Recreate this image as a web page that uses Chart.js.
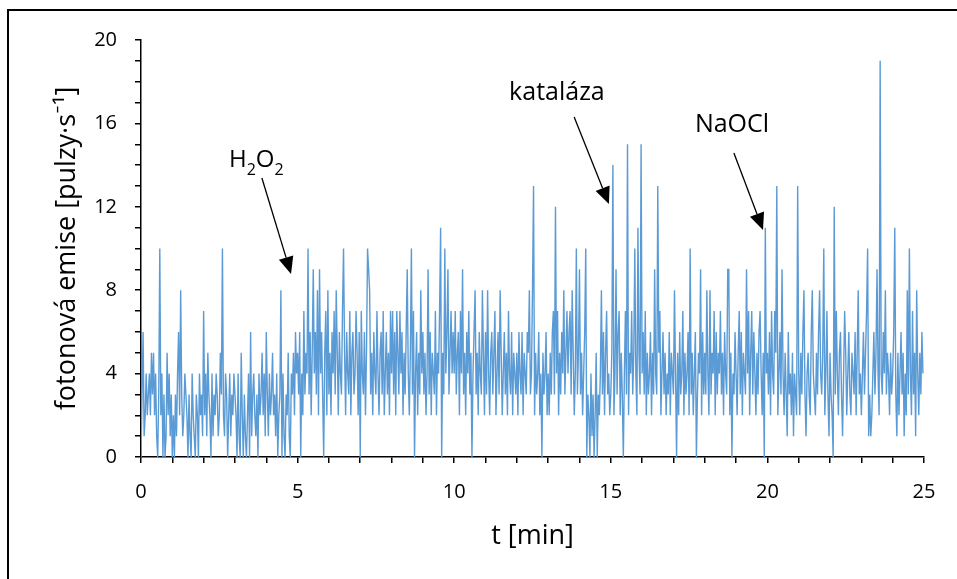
<!DOCTYPE html>
<html>
<head>
<meta charset="utf-8">
<script src="https://cdn.jsdelivr.net/npm/chart.js@4/dist/chart.umd.min.js"></script>
<style>
    html, body { margin: 0; padding: 0; background: #fff; }
    #wrap { position: relative; width: 957px; height: 579px; overflow: hidden; }
    #frame { position: absolute; left: 7px; top: 9px; width: 960px; height: 580px;
             border-top: 2px solid #000; border-left: 2px solid #000; }
    canvas { position: absolute; left: 0; top: 0; }
</style>
</head>
<body>
<div id="wrap">
    <div id="frame"></div>
    <canvas id="chart" width="957" height="579"></canvas>
</div>
<script>
/* ---- data: photon counts, one value every 2 s ---- */
const secondsPerPoint = 2;

const counts0to5 = [
    0,3,6,1,2,4,2,3,4,2,5,3,5,2,4,1,0,3,10,2,4,0,3,0,1,5,2,4,1,3,
    0,2,0,3,1,4,6,2,8,3,1,2,4,3,2,0,3,1,0,4,2,1,0,3,2,0,4,2,3,1,
    7,2,4,1,5,3,2,0,4,1,3,2,4,3,1,2,5,3,10,2,1,4,3,0,2,4,1,3,2,4,
    3,2,0,4,1,0,5,2,0,3,1,0,2,4,0,6,1,3,4,2,1,3,0,4,2,3,5,2,4,1,
    6,3,1,4,2,3,5,2,3,1,4,0,2,3,8,0,4,1,0,3,2,5,1,0,4,3,5,2,6,4
];
const counts5to10 = [
    5,3,6,0,4,2,7,3,5,4,10,3,6,2,5,9,4,6,3,8,2,9,4,6,3,0,5,7,2,8,
    3,5,2,6,4,7,3,8,5,2,6,4,3,7,10,5,2,6,4,3,7,2,5,6,3,4,7,5,2,6,
    0,7,4,3,6,2,5,10,9,8,3,5,2,6,4,3,7,4,2,5,6,3,7,2,4,6,3,5,2,7,
    4,7,3,6,2,7,5,3,7,4,6,2,5,3,6,9,4,2,5,10,3,7,0,4,6,2,5,3,8,4,
    6,3,5,2,4,9,3,6,2,5,4,3,7,2,5,4,7,11,0,5,3,10,4,6,9,3,5,7,4,6
];
const counts10to15 = [
    4,7,3,5,6,2,7,4,9,3,5,2,6,4,7,3,5,0,4,6,8,3,5,2,6,4,3,8,5,2,
    6,3,8,4,2,5,6,3,5,7,2,4,6,3,8,5,2,4,6,3,5,2,7,4,3,6,2,5,4,3,
    5,2,6,4,3,6,2,5,4,3,6,5,8,3,4,8,13,2,5,3,4,6,2,4,0,5,3,4,6,2,
    4,2,5,3,6,7,3,12,4,7,2,5,3,6,4,8,3,5,7,4,6,7,3,8,5,2,4,10,3,5,
    9,3,5,2,4,6,10,0,3,2,0,4,1,3,0,2,5,0,3,2,4,8,3,6,2,5,7,3,4,2
];
const counts15to20 = [
    3,5,14,2,4,9,3,6,7,2,5,3,0,4,7,3,15,2,5,4,7,3,5,10,4,2,11,5,3,15,
    4,6,3,7,2,5,3,4,6,2,5,3,9,4,3,13,5,7,2,4,6,3,5,2,4,3,6,2,5,4,
    3,8,4,0,5,2,6,3,4,7,2,5,3,4,6,2,10,3,5,2,4,6,0,3,5,4,9,2,6,3,
    5,3,8,4,2,8,3,5,4,7,2,6,3,5,4,7,3,5,2,6,4,3,9,9,2,5,0,4,3,6,
    4,2,5,7,3,6,2,5,4,3,9,4,7,2,5,7,3,6,4,2,5,3,6,7,4,2,5,0,11,4
];
const counts20to25 = [
    5,3,6,2,7,4,3,7,5,13,2,4,6,3,9,4,2,5,3,1,6,3,4,2,5,1,4,3,2,13,
    4,2,5,3,6,8,3,1,4,5,3,2,6,8,4,3,2,5,3,6,8,4,3,5,10,2,4,7,3,1,
    5,3,2,0,12,3,7,4,2,5,6,3,1,4,7,5,2,4,6,3,2,5,4,3,6,2,5,8,3,4,
    2,4,6,3,5,7,10,1,3,1,2,4,6,3,5,9,4,2,19,4,3,6,4,8,3,5,4,2,5,3,
    4,6,11,3,1,5,2,4,6,3,5,1,4,2,8,3,10,4,2,7,3,5,1,8,4,2,5,3,6,4
];

/* annotations: label + arrow, in data units (min, pulzy/s) */
const notes = [
    { text: "H", sub: "2", text2: "O", sub2: "2", tx: 2.81, ty: 13.92, align: "left",
      from: [3.86, 13.38], to: [4.79, 8.78] },
    { text: "kataláza", tx: 13.28, ty: 17.12, align: "center",
      from: [13.83, 16.31], to: [14.94, 12.13] },
    { text: "NaOCl", tx: 18.87, ty: 15.59, align: "center",
      from: [18.93, 14.58], to: [19.86, 10.89] }
];

const allCounts = [...counts0to5, ...counts5to10, ...counts10to15, ...counts15to20, ...counts20to25];
const points = allCounts.map((v, i) => ({ x: i * secondsPerPoint / 60, y: v }));

const FONT = "'Open Sans', Lato, sans-serif";

/* draws the text labels and arrows */
const notesPlugin = {
    id: "notes",
    afterDatasetsDraw(chart) {
        const { ctx, scales: { x, y } } = chart;
        ctx.save();
        ctx.fillStyle = "#000";
        ctx.strokeStyle = "#000";
        ctx.textBaseline = "alphabetic";

        notes.forEach(n => {
            const px = x.getPixelForValue(n.tx);
            const py = y.getPixelForValue(n.ty);
            ctx.font = "25px " + FONT;
            if (n.sub) {
                let cx = px;
                const parts = [[n.text, 0, 24], [n.sub, 8, 16], [n.text2, 0, 24], [n.sub2, 8, 16]];
                parts.forEach(([s, dy, size]) => {
                    ctx.font = size + "px " + FONT;
                    ctx.textAlign = "left";
                    ctx.fillText(s, cx, py + dy);
                    cx += ctx.measureText(s).width;
                });
            } else {
                ctx.textAlign = n.align;
                ctx.fillText(n.text, px, py);
            }

            const x1 = x.getPixelForValue(n.from[0]), y1 = y.getPixelForValue(n.from[1]);
            const x2 = x.getPixelForValue(n.to[0]), y2 = y.getPixelForValue(n.to[1]);
            const ang = Math.atan2(y2 - y1, x2 - x1);
            const headLen = 17, headW = 7.5;
            const bx = x2 - headLen * Math.cos(ang), by = y2 - headLen * Math.sin(ang);

            ctx.lineWidth = 1.3;
            ctx.beginPath();
            ctx.moveTo(x1, y1);
            ctx.lineTo(bx, by);
            ctx.stroke();

            ctx.beginPath();
            ctx.moveTo(x2, y2);
            ctx.lineTo(bx + headW * Math.sin(ang), by - headW * Math.cos(ang));
            ctx.lineTo(bx - headW * Math.sin(ang), by + headW * Math.cos(ang));
            ctx.closePath();
            ctx.fill();
        });
        ctx.restore();
    }
};

new Chart(document.getElementById("chart"), {
    type: "line",
    data: {
        datasets: [{
            data: points,
            borderColor: "#5B9BD5",
            borderWidth: 1.4,
            pointRadius: 0,
            tension: 0,
            fill: false
        }]
    },
    options: {
        responsive: false,
        animation: false,
        devicePixelRatio: 1,
        layout: { padding: { left: 0, top: 40, right: 33, bottom: 0 } },
        plugins: { legend: { display: false }, tooltip: { enabled: false } },
        scales: {
            x: {
                type: "linear",
                min: 0,
                max: 25,
                afterFit: s => { s.height = 122; },
                border: { color: "#000", width: 1.5 },
                grid: { drawOnChartArea: false, drawTicks: true, tickLength: 6, color: "#000", lineWidth: 1.5 },
                ticks: {
                    stepSize: 1,
                    autoSkip: false,
                    maxRotation: 0,
                    padding: 17,
                    color: "#000",
                    font: { family: FONT, size: 20 },
                    callback: v => (v % 5 === 0 ? v : "")
                },
                title: {
                    display: true,
                    text: "t [min]",
                    color: "#000",
                    font: { family: FONT, size: 27 },
                    padding: { top: 0, bottom: 26 }
                }
            },
            y: {
                min: 0,
                max: 20,
                afterFit: s => { s.width = 141; },
                border: { color: "#000", width: 1.5 },
                grid: { drawOnChartArea: false, drawTicks: true, tickLength: 6, color: "#000", lineWidth: 1.5 },
                ticks: {
                    stepSize: 1,
                    autoSkip: false,
                    padding: 18,
                    color: "#000",
                    font: { family: FONT, size: 20 },
                    callback: v => (v % 4 === 0 ? v : "")
                },
                title: {
                    display: true,
                    text: "fotonová emise [pulzy·s⁻¹]",
                    color: "#000",
                    font: { family: FONT, size: 27 },
                    padding: { top: 51, bottom: 0 }
                }
            }
        }
    },
    plugins: [notesPlugin]
});
</script>
</body>
</html>
